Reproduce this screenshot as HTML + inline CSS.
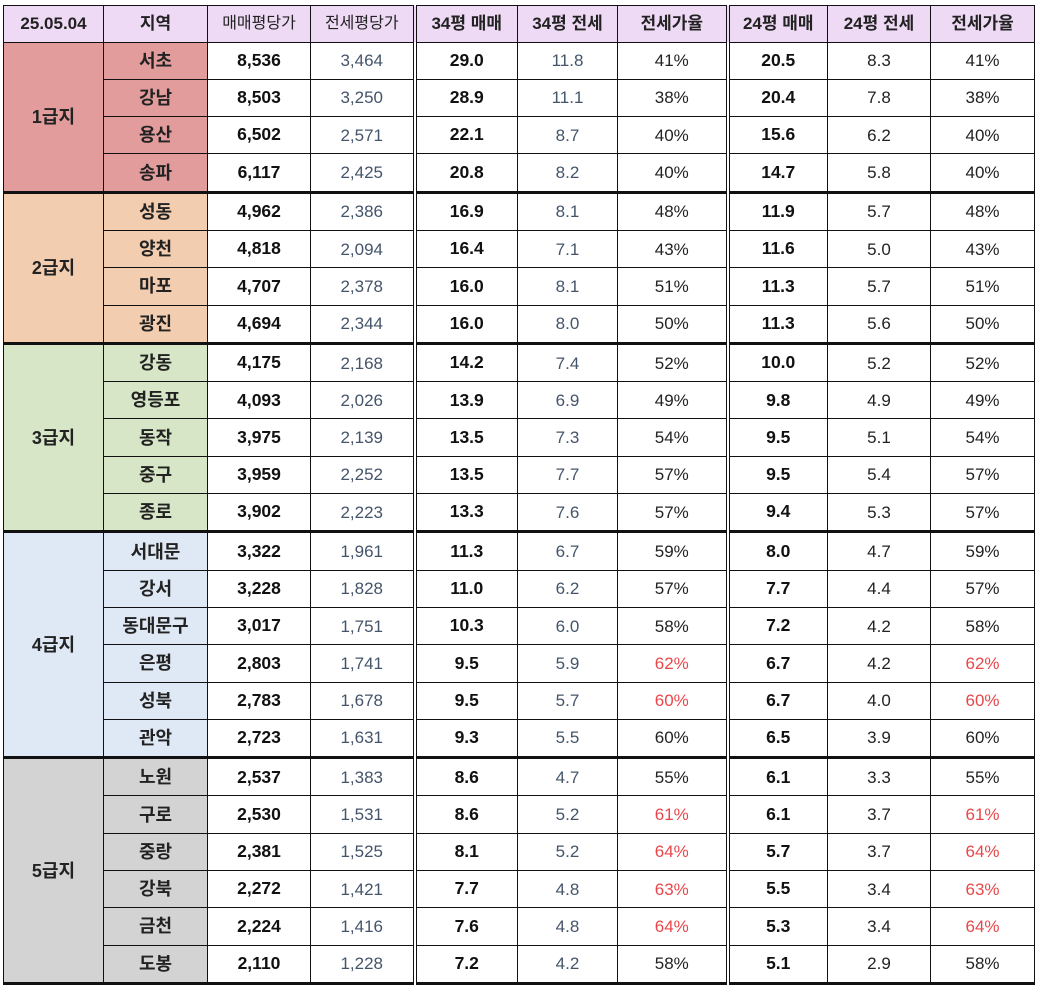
<!DOCTYPE html>
<html><head><meta charset="utf-8"><style>
html,body{margin:0;padding:0;background:#fff;width:1042px;height:988px;overflow:hidden}
table{position:absolute;left:3px;top:5px;border-collapse:collapse;table-layout:fixed;font-family:"Liberation Sans","Noto Sans CJK KR",sans-serif;font-size:17px}
td{border:1.5px solid #111;text-align:center;padding:0;height:36.3px;color:#222;line-height:1}
tr.h td{background:#efdaf5;font-weight:bold;font-size:17px;height:35.5px}
tr.h td.a{font-size:16px;font-weight:normal}
td.g{font-weight:bold;font-size:18px}
td.n{font-weight:bold;font-size:18px}
td.b{font-weight:bold;color:#111;font-size:17.5px}
td.s{color:#44546a}
td.p{color:#222}
td.r{color:#e8474a}
td.d{border-right:4px double #111}
tr.e td{border-bottom:3px solid #111}
.c1{background:#e29c9c}.c2{background:#f3cdb0}.c3{background:#d6e6c6}.c4{background:#dfe9f6}.c5{background:#d3d3d3}
</style></head><body>
<table>
<colgroup><col style="width:100px"><col style="width:104px"><col style="width:103px"><col style="width:104px"><col style="width:103px"><col style="width:100px"><col style="width:110px"><col style="width:100px"><col style="width:103px"><col style="width:104px"></colgroup>
<tr class="h"><td>25.05.04</td><td>지역</td><td class="a">매매평당가</td><td class="a d">전세평당가</td><td>34평 매매</td><td>34평 전세</td><td class="d">전세가율</td><td>24평 매매</td><td>24평 전세</td><td>전세가율</td></tr>

<tr><td class="g c1" rowspan="4" style="border-bottom:3px solid #111">1급지</td><td class="n c1">서초</td><td class="b">8,536</td><td class="s d">3,464</td><td class="b">29.0</td><td class="s">11.8</td><td class="p d">41%</td><td class="b">20.5</td><td class="p">8.3</td><td class="p">41%</td></tr>
<tr><td class="n c1">강남</td><td class="b">8,503</td><td class="s d">3,250</td><td class="b">28.9</td><td class="s">11.1</td><td class="p d">38%</td><td class="b">20.4</td><td class="p">7.8</td><td class="p">38%</td></tr>
<tr><td class="n c1">용산</td><td class="b">6,502</td><td class="s d">2,571</td><td class="b">22.1</td><td class="s">8.7</td><td class="p d">40%</td><td class="b">15.6</td><td class="p">6.2</td><td class="p">40%</td></tr>
<tr class="e"><td class="n c1">송파</td><td class="b">6,117</td><td class="s d">2,425</td><td class="b">20.8</td><td class="s">8.2</td><td class="p d">40%</td><td class="b">14.7</td><td class="p">5.8</td><td class="p">40%</td></tr>

<tr><td class="g c2" rowspan="4" style="border-bottom:3px solid #111">2급지</td><td class="n c2">성동</td><td class="b">4,962</td><td class="s d">2,386</td><td class="b">16.9</td><td class="s">8.1</td><td class="p d">48%</td><td class="b">11.9</td><td class="p">5.7</td><td class="p">48%</td></tr>
<tr><td class="n c2">양천</td><td class="b">4,818</td><td class="s d">2,094</td><td class="b">16.4</td><td class="s">7.1</td><td class="p d">43%</td><td class="b">11.6</td><td class="p">5.0</td><td class="p">43%</td></tr>
<tr><td class="n c2">마포</td><td class="b">4,707</td><td class="s d">2,378</td><td class="b">16.0</td><td class="s">8.1</td><td class="p d">51%</td><td class="b">11.3</td><td class="p">5.7</td><td class="p">51%</td></tr>
<tr class="e"><td class="n c2">광진</td><td class="b">4,694</td><td class="s d">2,344</td><td class="b">16.0</td><td class="s">8.0</td><td class="p d">50%</td><td class="b">11.3</td><td class="p">5.6</td><td class="p">50%</td></tr>

<tr><td class="g c3" rowspan="5" style="border-bottom:3px solid #111">3급지</td><td class="n c3">강동</td><td class="b">4,175</td><td class="s d">2,168</td><td class="b">14.2</td><td class="s">7.4</td><td class="p d">52%</td><td class="b">10.0</td><td class="p">5.2</td><td class="p">52%</td></tr>
<tr><td class="n c3">영등포</td><td class="b">4,093</td><td class="s d">2,026</td><td class="b">13.9</td><td class="s">6.9</td><td class="p d">49%</td><td class="b">9.8</td><td class="p">4.9</td><td class="p">49%</td></tr>
<tr><td class="n c3">동작</td><td class="b">3,975</td><td class="s d">2,139</td><td class="b">13.5</td><td class="s">7.3</td><td class="p d">54%</td><td class="b">9.5</td><td class="p">5.1</td><td class="p">54%</td></tr>
<tr><td class="n c3">중구</td><td class="b">3,959</td><td class="s d">2,252</td><td class="b">13.5</td><td class="s">7.7</td><td class="p d">57%</td><td class="b">9.5</td><td class="p">5.4</td><td class="p">57%</td></tr>
<tr class="e"><td class="n c3">종로</td><td class="b">3,902</td><td class="s d">2,223</td><td class="b">13.3</td><td class="s">7.6</td><td class="p d">57%</td><td class="b">9.4</td><td class="p">5.3</td><td class="p">57%</td></tr>

<tr><td class="g c4" rowspan="6" style="border-bottom:3px solid #111">4급지</td><td class="n c4">서대문</td><td class="b">3,322</td><td class="s d">1,961</td><td class="b">11.3</td><td class="s">6.7</td><td class="p d">59%</td><td class="b">8.0</td><td class="p">4.7</td><td class="p">59%</td></tr>
<tr><td class="n c4">강서</td><td class="b">3,228</td><td class="s d">1,828</td><td class="b">11.0</td><td class="s">6.2</td><td class="p d">57%</td><td class="b">7.7</td><td class="p">4.4</td><td class="p">57%</td></tr>
<tr><td class="n c4">동대문구</td><td class="b">3,017</td><td class="s d">1,751</td><td class="b">10.3</td><td class="s">6.0</td><td class="p d">58%</td><td class="b">7.2</td><td class="p">4.2</td><td class="p">58%</td></tr>
<tr><td class="n c4">은평</td><td class="b">2,803</td><td class="s d">1,741</td><td class="b">9.5</td><td class="s">5.9</td><td class="r d">62%</td><td class="b">6.7</td><td class="p">4.2</td><td class="r">62%</td></tr>
<tr><td class="n c4">성북</td><td class="b">2,783</td><td class="s d">1,678</td><td class="b">9.5</td><td class="s">5.7</td><td class="r d">60%</td><td class="b">6.7</td><td class="p">4.0</td><td class="r">60%</td></tr>
<tr class="e"><td class="n c4">관악</td><td class="b">2,723</td><td class="s d">1,631</td><td class="b">9.3</td><td class="s">5.5</td><td class="p d">60%</td><td class="b">6.5</td><td class="p">3.9</td><td class="p">60%</td></tr>

<tr><td class="g c5" rowspan="6" style="border-bottom:3px solid #111">5급지</td><td class="n c5">노원</td><td class="b">2,537</td><td class="s d">1,383</td><td class="b">8.6</td><td class="s">4.7</td><td class="p d">55%</td><td class="b">6.1</td><td class="p">3.3</td><td class="p">55%</td></tr>
<tr><td class="n c5">구로</td><td class="b">2,530</td><td class="s d">1,531</td><td class="b">8.6</td><td class="s">5.2</td><td class="r d">61%</td><td class="b">6.1</td><td class="p">3.7</td><td class="r">61%</td></tr>
<tr><td class="n c5">중랑</td><td class="b">2,381</td><td class="s d">1,525</td><td class="b">8.1</td><td class="s">5.2</td><td class="r d">64%</td><td class="b">5.7</td><td class="p">3.7</td><td class="r">64%</td></tr>
<tr><td class="n c5">강북</td><td class="b">2,272</td><td class="s d">1,421</td><td class="b">7.7</td><td class="s">4.8</td><td class="r d">63%</td><td class="b">5.5</td><td class="p">3.4</td><td class="r">63%</td></tr>
<tr><td class="n c5">금천</td><td class="b">2,224</td><td class="s d">1,416</td><td class="b">7.6</td><td class="s">4.8</td><td class="r d">64%</td><td class="b">5.3</td><td class="p">3.4</td><td class="r">64%</td></tr>
<tr class="e"><td class="n c5">도봉</td><td class="b">2,110</td><td class="s d">1,228</td><td class="b">7.2</td><td class="s">4.2</td><td class="p d">58%</td><td class="b">5.1</td><td class="p">2.9</td><td class="p">58%</td></tr>
</table>
</body></html>
